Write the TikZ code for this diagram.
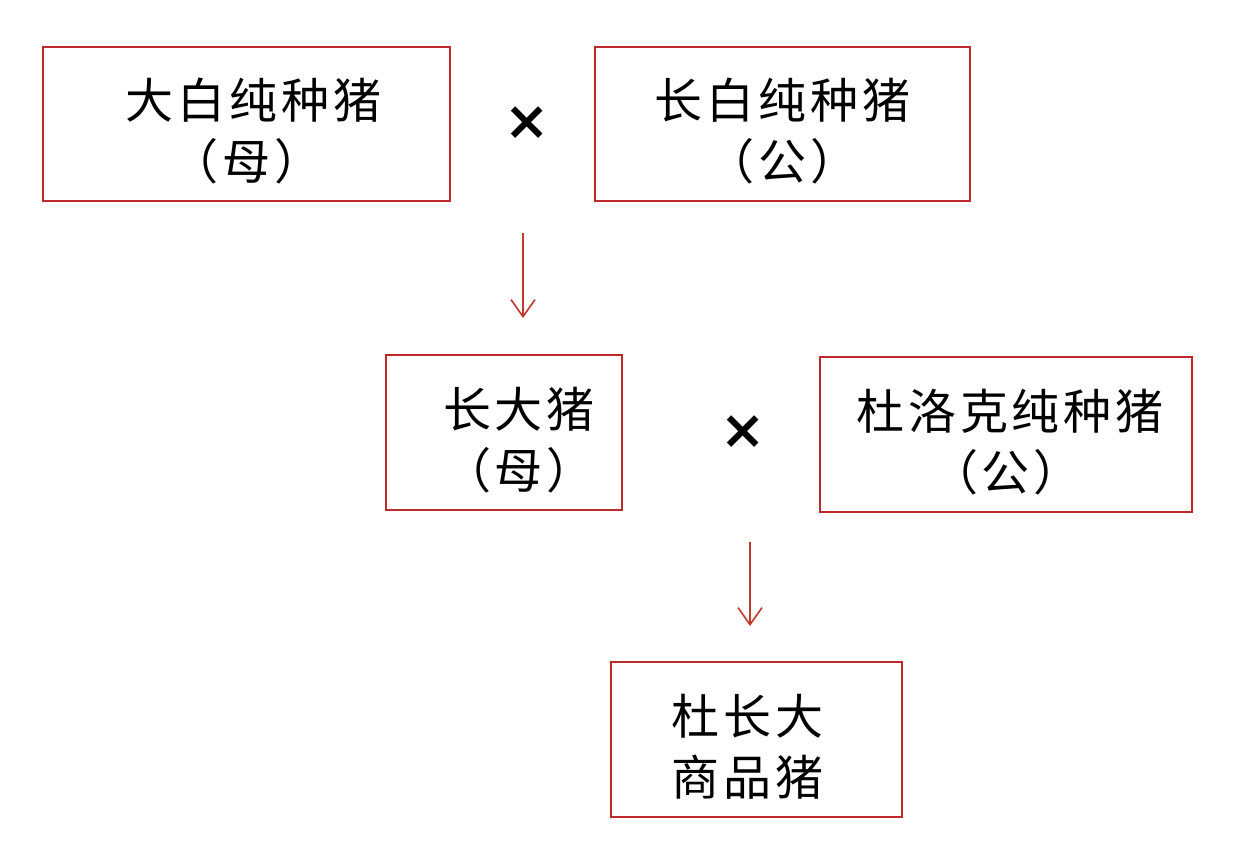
\documentclass[tikz,border=0pt]{standalone}
\usepackage{fontspec}
\newfontfamily\cjk[LetterSpace=8]{Noto Sans CJK SC}
\newfontfamily\djv{DejaVu Sans}
\usetikzlibrary{arrows.meta}
\definecolor{boxred}{HTML}{C0282E}
\definecolor{arrred}{HTML}{C0392B}
\newcommand{\topstrut}{\rule{0pt}{55pt}}
\begin{document}
\begin{tikzpicture}[x=1pt,y=-1pt,
  box/.style={draw=boxred, line width=2pt, rectangle, inner sep=0pt, align=center,
    font=\cjk\fontsize{48}{61}\selectfont},
  cross/.style={font=\djv\bfseries\fontsize{54}{54}\selectfont, inner sep=0pt},
  arr/.style={draw=arrred, line width=1.6pt, -{Straight Barb[length=17pt,width=24pt,line width=1.6pt]}}]
\useasboundingbox (0,0) rectangle (1234,862);
\node[box, minimum width=407pt, minimum height=154pt] (a) at (246.5,124) {\topstrut\hspace*{14pt}大白纯种猪\\（母）};
\node[box, minimum width=375pt, minimum height=154pt] (b) at (782.5,124) {\topstrut 长白纯种猪\\（公）};
\node[cross] (x1) at (527,123) {×};
\node[box, minimum width=236pt, minimum height=155pt] (c) at (504,432.5) {\topstrut\hspace*{30pt}长大猪\\\hspace*{30pt}（母）};
\node[cross] (x2) at (743,432) {×};
\node[box, minimum width=372pt, minimum height=155pt] (d) at (1006,434.5) {\topstrut\hspace*{8pt}杜洛克纯种猪\\（公）};
\node[box, minimum width=291pt, minimum height=155pt] (e) at (756.5,739.5) {\topstrut\hspace*{-18pt}杜长大\\\hspace*{-18pt}商品猪};
\coordinate (a1s) at (523,233);
\coordinate (a1e) at (523,318);
\coordinate (a2s) at (750,542);
\coordinate (a2e) at (750,626);
\draw[arr] (a1s) -- (a1e);
\draw[arr] (a2s) -- (a2e);
\end{tikzpicture}
\end{document}
